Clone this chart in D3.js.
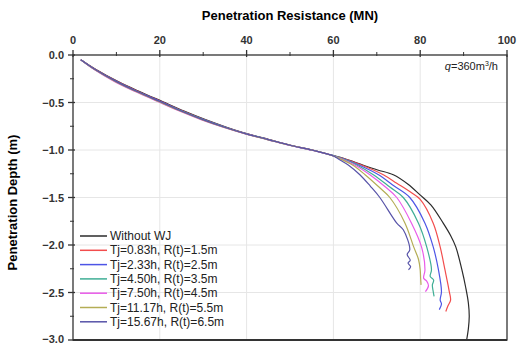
<!DOCTYPE html>
<html>
<head>
<meta charset="utf-8">
<script src="https://cdn.jsdelivr.net/npm/d3@7"></script>
<style>
  body { margin: 0; background: #fff; }
  svg { display: block; font-family: Arial, "Liberation Sans", sans-serif; }
</style>
</head>
<body>
<div id="chart"></div>
<script>
// series labels and colours
const seriesNames = ["Without WJ", "Tj=0.83h, R(t)=1.5m", "Tj=2.33h, R(t)=2.5m", "Tj=4.50h, R(t)=3.5m",
  "Tj=7.50h, R(t)=4.5m", "Tj=11.17h, R(t)=5.5m", "Tj=15.67h, R(t)=6.5m"];
const seriesColors = ["#2b2b2b", "#f24d4d", "#4d55e6", "#3fae95", "#e95be9", "#b4ad55", "#5753a8"];

// shared depths of the upper (common) part
const depthTop = [-0.05, -0.15, -0.28, -0.39, -0.49, -0.59, -0.68, -0.76, -0.83, -0.89, -0.95, -1.00, -1.06];

// penetration resistance (MN) and depth (m)
const resWithoutWJ = [1.8, 5.2, 10.4, 15.6, 20.6, 25.6, 30.5, 35.4, 40.2, 45.2, 50.2, 55.2, 60.1,
  62.5, 66.9, 70.2, 73.8, 77.2, 79.9, 82.5, 85.3, 87.0, 88.2, 89.6, 90.5, 91.1, 91.3, 91.1, 90.7];
const depWithoutWJ = depthTop.concat([-1.09, -1.16, -1.21, -1.26, -1.36, -1.47, -1.58, -1.77, -1.90, -2.02, -2.26, -2.45, -2.61, -2.75, -2.88, -3.0]);

const resTj083 = [1.8, 5.1, 10.2, 15.3, 20.3, 25.3, 30.2, 35.2, 40.1, 45.1, 50.1, 55.1, 60.0,
  62.3, 66.6, 71.5, 74.6, 78.0, 80.0, 83.0, 84.6, 85.7, 86.7, 87.0, 86.4, 85.9];
const depTj083 = depthTop.concat([-1.09, -1.16, -1.26, -1.35, -1.45, -1.52, -1.77, -2.02, -2.26, -2.49, -2.58, -2.64, -2.70]);

const resTj233 = [1.8, 5.0, 10.1, 15.1, 20.2, 25.1, 30.1, 35.1, 40.0, 45.0, 50.0, 55.0, 59.9,
  62.1, 66.0, 70.4, 74.0, 77.6, 81.1, 83.0, 84.2, 84.9, 84.6, 84.9, 84.4];
const depTj233 = depthTop.concat([-1.09, -1.16, -1.26, -1.38, -1.50, -1.77, -2.02, -2.26, -2.49, -2.58, -2.62, -2.68]);

const resTj450 = [1.8, 4.9, 9.9, 14.9, 19.9, 25.0, 30.0, 35.0, 39.9, 44.9, 49.9, 54.9, 59.9,
  61.9, 65.5, 69.2, 73.0, 76.1, 79.6, 81.5, 82.6, 82.3, 83.1, 82.8, 83.0, 83.2];
const depTj450 = depthTop.concat([-1.09, -1.16, -1.26, -1.39, -1.50, -1.77, -2.02, -2.26, -2.33, -2.37, -2.42, -2.49, -2.54]);

const resTj750 = [1.8, 4.8, 9.6, 14.6, 19.5, 24.5, 29.5, 34.6, 39.7, 44.8, 49.8, 54.8, 59.8,
  61.6, 65.0, 68.4, 72.0, 74.6, 78.0, 80.3, 81.1, 80.8, 81.5, 81.9, 81.2];
const depTj750 = depthTop.concat([-1.09, -1.16, -1.26, -1.39, -1.50, -1.77, -2.02, -2.26, -2.35, -2.38, -2.43, -2.49]);

const resTj1117 = [1.8, 4.9, 9.8, 14.8, 19.7, 24.7, 29.7, 34.7, 39.8, 44.8, 49.9, 54.9, 59.8,
  61.4, 64.5, 67.3, 70.5, 73.0, 76.5, 78.5, 79.6, 80.0, 80.1, 80.2];
const depTj1117 = depthTop.concat([-1.09, -1.16, -1.26, -1.39, -1.50, -1.77, -2.02, -2.15, -2.26, -2.35, -2.42]);

const resTj1567 = [1.8, 5.0, 10.0, 15.0, 20.0, 24.9, 29.9, 34.9, 39.9, 45.0, 50.0, 55.0, 59.9,
  61.0, 63.5, 66.1, 68.5, 70.7, 74.6, 76.1, 77.6, 77.0, 77.7, 77.2, 77.8, 77.3];
const depTj1567 = depthTop.concat([-1.09, -1.16, -1.26, -1.38, -1.50, -1.77, -1.84, -2.05, -2.10, -2.16, -2.19, -2.23, -2.26]);

const resSeries = [resWithoutWJ, resTj083, resTj233, resTj450, resTj750, resTj1117, resTj1567];
const depSeries = [depWithoutWJ, depTj083, depTj233, depTj450, depTj750, depTj1117, depTj1567];

const xTicks = [0, 20, 40, 60, 80, 100];
const yTicks = [0, -0.5, -1.0, -1.5, -2.0, -2.5, -3.0];

const width = 517, height = 344;
const margin = {top: 55, right: 10, bottom: 4, left: 73};

const x = d3.scaleLinear().domain([0, 100]).range([margin.left, width - margin.right]);
const y = d3.scaleLinear().domain([0, -3]).range([margin.top, height - margin.bottom]);

const svg = d3.select("#chart").append("svg")
    .attr("width", width)
    .attr("height", height);

// grid
svg.append("g")
    .selectAll("line")
    .data(xTicks.slice(1, -1))
    .join("line")
    .attr("x1", d => x(d)).attr("x2", d => x(d))
    .attr("y1", y(0)).attr("y2", y(-3))
    .attr("stroke", "#e6e6e6");
svg.append("g")
    .selectAll("line")
    .data(yTicks.slice(1, -1))
    .join("line")
    .attr("x1", x(0)).attr("x2", x(100))
    .attr("y1", d => y(d)).attr("y2", d => y(d))
    .attr("stroke", "#e6e6e6");

// curves
const line = d3.line()
    .x(d => x(d[0]))
    .y(d => y(d[1]))
    .curve(d3.curveCatmullRom.alpha(0.5));

const curveOrder = [0, 1, 2, 3, 4, 5, 6];
svg.append("g")
    .selectAll("path")
    .data(curveOrder)
    .join("path")
    .attr("fill", "none")
    .attr("stroke", i => seriesColors[i])
    .attr("stroke-width", 1.2)
    .attr("d", i => line(d3.zip(resSeries[i], depSeries[i])));

// frame
svg.append("rect")
    .attr("x", x(0)).attr("y", y(0))
    .attr("width", x(100) - x(0)).attr("height", y(-3) - y(0))
    .attr("fill", "none")
    .attr("stroke", "#333")
    .attr("stroke-width", 1.3);
svg.append("line")
    .attr("x1", x(0)).attr("x2", x(100))
    .attr("y1", y(-3)).attr("y2", y(-3))
    .attr("stroke", "#333").attr("stroke-width", 2);

// top axis
const xAxis = svg.append("g").attr("transform", `translate(0,${y(0)})`);
xAxis.selectAll(".major")
    .data(xTicks)
    .join("line")
    .attr("x1", d => x(d)).attr("x2", d => x(d))
    .attr("y1", -5).attr("y2", 2)
    .attr("stroke", "#333").attr("stroke-width", 1.3);
xAxis.selectAll(".minor")
    .data(d3.range(10, 100, 20))
    .join("line")
    .attr("x1", d => x(d)).attr("x2", d => x(d))
    .attr("y1", -3).attr("y2", 1)
    .attr("stroke", "#333");
xAxis.selectAll("text")
    .data(xTicks)
    .join("text")
    .attr("x", d => x(d))
    .attr("y", -11)
    .attr("text-anchor", "middle")
    .attr("font-size", 11)
    .attr("font-weight", "bold")
    .attr("fill", "#333")
    .text(d => d);

// left axis
const yAxis = svg.append("g").attr("transform", `translate(${x(0)},0)`);
yAxis.selectAll(".major")
    .data(yTicks)
    .join("line")
    .attr("x1", -5).attr("x2", 2)
    .attr("y1", d => y(d)).attr("y2", d => y(d))
    .attr("stroke", "#333").attr("stroke-width", 1.3);
yAxis.selectAll(".minor")
    .data(d3.range(-0.25, -3, -0.5))
    .join("line")
    .attr("x1", -3).attr("x2", 1)
    .attr("y1", d => y(d)).attr("y2", d => y(d))
    .attr("stroke", "#333");
yAxis.selectAll("text")
    .data(yTicks)
    .join("text")
    .attr("x", -9)
    .attr("y", d => d === -3 ? y(d) + 2.5 : y(d) + 4)
    .attr("text-anchor", "end")
    .attr("font-size", 11)
    .attr("font-weight", "bold")
    .attr("fill", "#333")
    .text(d => d3.format(".1f")(d));

// axis titles
svg.append("text")
    .attr("x", (x(0) + x(100)) / 2)
    .attr("y", 20)
    .attr("text-anchor", "middle")
    .attr("font-size", 13)
    .attr("font-weight", "bold")
    .text("Penetration Resistance (MN)");
svg.append("text")
    .attr("transform", `translate(17,${(y(0) + y(-3)) / 2 + 5}) rotate(-90)`)
    .attr("text-anchor", "middle")
    .attr("font-size", 13)
    .attr("font-weight", "bold")
    .text("Penetration Depth (m)");

// annotation
const note = svg.append("text")
    .attr("x", x(100) - 9)
    .attr("y", 70)
    .attr("text-anchor", "end")
    .attr("font-size", 11)
    .attr("fill", "#222");
note.append("tspan").attr("font-style", "italic").text("q");
note.append("tspan").text("=360m");
note.append("tspan").attr("font-size", 7).attr("dy", -4).text("3");
note.append("tspan").attr("dy", 4).text("/h");

// legend
const legend = svg.append("g").attr("transform", "translate(80,236)");
const rows = legend.selectAll("g")
    .data(seriesNames)
    .join("g")
    .attr("transform", (d, i) => `translate(0,${i * 14.3})`);
rows.append("line")
    .attr("x1", 0).attr("x2", 27)
    .attr("stroke", (d, i) => seriesColors[i])
    .attr("stroke-width", 1.5);
rows.append("text")
    .attr("x", 30)
    .attr("y", 4)
    .attr("font-size", 12)
    .attr("fill", "#222")
    .text(d => d);
</script>
</body>
</html>
